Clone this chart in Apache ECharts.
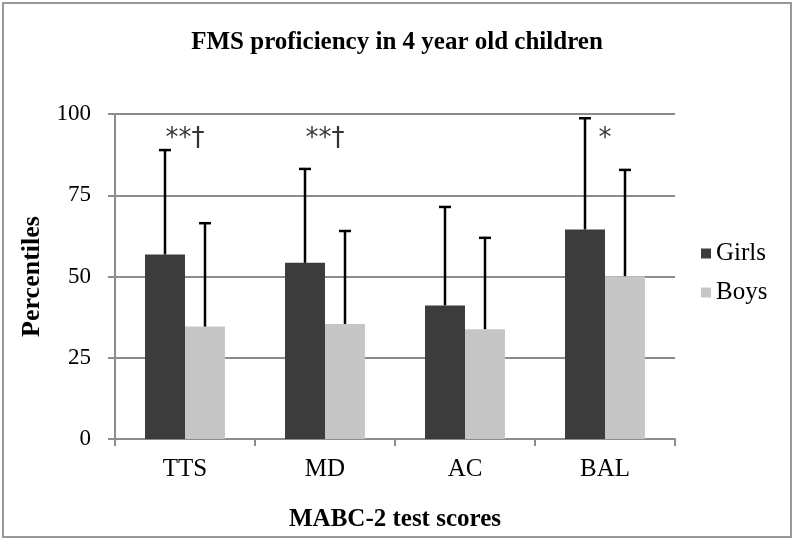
<!DOCTYPE html>
<html><head><meta charset="utf-8">
<script src="https://cdn.jsdelivr.net/npm/echarts@6/dist/echarts.min.js"></script>
<style>html,body{margin:0;padding:0;background:#fff}#c{width:794px;height:541px}</style>
</head><body><div id="c"></div>
<script>
var categories = ['TTS', 'MD', 'AC', 'BAL'];
var girlsMean = [56.8, 54.2, 41.1, 64.5];
var girlsSD = [32.1, 28.9, 30.3, 34.2];
var boysMean = [34.6, 35.4, 33.8, 50.1];
var boysSD = [31.8, 28.6, 28.1, 32.7];
var annotations = ['**\u2020', '**\u2020', '', '*'];
var annotationLevel = [92.3, 92.3, 92.3, 92.3];
var yTicks = [0, 25, 50, 75, 100];

var FONT = '"Liberation Serif", "Times New Roman", serif';
var GAP = 60 / 140;

function errData(means, sds) {
  return means.map(function (m, i) { return [i, m, sds[i]]; });
}
function errRender(side) {
  return function (params, api) {
    var i = api.value(0), m = api.value(1), sd = api.value(2);
    var band = api.size([1, 0])[0];
    var off = side * band * (1 - GAP) / 4;
    var p0 = api.coord([i, m]);
    var p1 = api.coord([i, m + sd]);
    var x = p0[0] + off;
    var style = { stroke: '#000', lineWidth: 2.5 };
    return {
      type: 'group',
      children: [
        { type: 'line', shape: { x1: x, y1: p0[1], x2: x, y2: p1[1] }, style: style },
        { type: 'line', shape: { x1: x - 6, y1: p1[1], x2: x + 6, y2: p1[1] }, style: style }
      ]
    };
  };
}

var chart = echarts.init(document.getElementById('c'));
chart.setOption({
  animation: false,
  backgroundColor: '#fff',
  title: {
    text: 'FMS proficiency in 4 year old children',
    left: 'center', top: 25,
    textStyle: { fontFamily: FONT, fontWeight: 'bold', fontSize: 25, color: '#000' }
  },
  legend: {
    orient: 'vertical', left: 696, top: 236, itemGap: 14,
    itemWidth: 10, itemHeight: 10, icon: 'rect',
    textStyle: { fontFamily: FONT, fontSize: 25, color: '#000' },
    data: ['Girls', 'Boys']
  },
  grid: { left: 115, right: 119, top: 114, bottom: 102 },
  xAxis: {
    type: 'category', data: categories,
    name: 'MABC-2 test scores', nameLocation: 'middle', nameGap: 68,
    nameTextStyle: { fontFamily: FONT, fontWeight: 'bold', fontSize: 25, color: '#000' },
    axisLine: { lineStyle: { color: '#8c8c8c', width: 2 } },
    axisTick: { show: true, length: 7, lineStyle: { color: '#8c8c8c', width: 2 } },
    axisLabel: { fontFamily: FONT, fontSize: 25, color: '#000', margin: 18 }
  },
  yAxis: {
    type: 'value', min: 0, max: 100, interval: 25,
    name: 'Percentiles', nameLocation: 'middle', nameGap: 66, nameRotate: 90,
    nameTextStyle: { fontFamily: FONT, fontWeight: 'bold', fontSize: 26, color: '#000' },
    axisLine: { show: true, lineStyle: { color: '#8c8c8c', width: 2 } },
    axisTick: { show: true, length: 7, lineStyle: { color: '#8c8c8c', width: 2 } },
    splitLine: { lineStyle: { color: '#8c8c8c', width: 2 } },
    axisLabel: { fontFamily: FONT, fontSize: 23, color: '#000', margin: 24,
      formatter: function (v) { return yTicks.indexOf(v) >= 0 ? String(v) : ''; } }
  },
  series: [
    { name: 'Girls', type: 'bar', data: girlsMean, barGap: '0%', barCategoryGap: (GAP * 100) + '%',
      itemStyle: { color: '#3c3c3c' } },
    { name: 'Boys', type: 'bar', data: boysMean, barGap: '0%', barCategoryGap: (GAP * 100) + '%',
      itemStyle: { color: '#c6c6c6' } },
    { type: 'custom', renderItem: errRender(-1), data: errData(girlsMean, girlsSD), z: 5 },
    { type: 'custom', renderItem: errRender(1), data: errData(boysMean, boysSD), z: 5 },
    { type: 'scatter', symbolSize: 0, z: 6,
      data: annotations.map(function (t, i) { return { value: [i, annotationLevel[i]], txt: t }; }),
      label: { show: true, position: 'inside', fontFamily: '"DejaVu Sans", sans-serif', fontSize: 26, color: '#000',
        formatter: function (p) { return p.data.txt; } } }
  ],
  graphic: [
    { type: 'rect', shape: { x: 3, y: 3, width: 788, height: 534 },
      style: { fill: 'none', stroke: '#999', lineWidth: 2 }, silent: true }
  ]
});
</script></body></html>
